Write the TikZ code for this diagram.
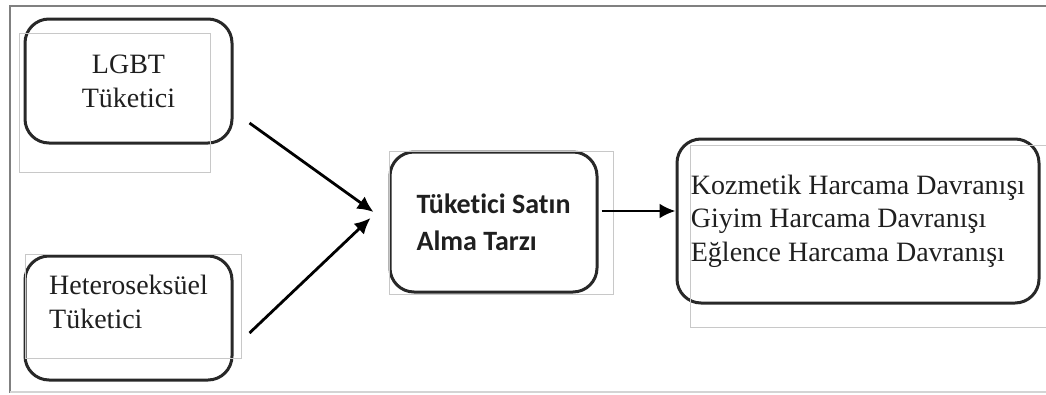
\documentclass[tikz,border=0pt]{standalone}
\usepackage{fontspec}
\setmainfont{Liberation Serif}
\newfontfamily\calfont[Ligatures=NoCommon]{Carlito}
\usetikzlibrary{arrows.meta}
\definecolor{CorBorda}{RGB}{40,40,40}
\definecolor{CorMoldura}{RGB}{128,128,128}
\definecolor{CorMclara}{RGB}{212,212,212}
\definecolor{CorFantasma}{RGB}{200,200,200}

\begin{document}
\begin{tikzpicture}[x=1pt,y=-1pt,every node/.style={font=\fontsize{28}{34}\selectfont,text=black!88},
caixa/.style={draw=CorBorda,line width=3pt,rounded corners=24pt,minimum width=207pt,minimum height=124pt,inner sep=0pt},
seta/.style={line width=2.8pt,-{Latex[length=16pt,width=15pt]}},
fantasma/.style={draw=CorFantasma,line width=.8pt}]
\useasboundingbox(0,0)rectangle(1046,394);
\draw[CorMoldura,line width=2pt](1046,6)--(10,6)--(10,393);
\draw[CorMclara,line width=2pt](10,392)--(1046,392);
\node[caixa,align=center](lgbt)at(128.5,81){LGBT\\Tüketici};
\node[caixa,align=left,text depth=33pt](het)at(128.5,318){Heteroseksüel\\Tüketici};
\node[caixa,align=left,minimum height=140pt,font=\calfont\bfseries\fontsize{28}{37}\selectfont](tuk)at(493.5,222){Tüketici Satın\\Alma Tarzı};
\node[caixa,align=left,minimum width=362pt,minimum height=164pt,font=\fontsize{28}{33.5}\selectfont](comp)at(858,221){Kozmetik Harcama Davranışı\\Giyim Harcama Davranışı\\Eğlence Harcama Davranışı};
\draw[fantasma](19,33)rectangle(210,172);
\draw[fantasma](25,254)rectangle(241,358);
\draw[fantasma](389,151)rectangle(613,294);
\draw[fantasma](1046,145)--(690,145)--(690,327)--(1046,327);
\draw[seta]([shift={(16,42)}]lgbt.east)--([shift={(-15,-10)}]tuk.west);
\draw[seta]([shift={(16,15)}]het.east)--([shift={(-18,-4)}]tuk.west);
\draw[seta]([shift={(3,-11)}]tuk.east)--([shift={(0,-10)}]comp.west);
\end{tikzpicture}
\end{document}
